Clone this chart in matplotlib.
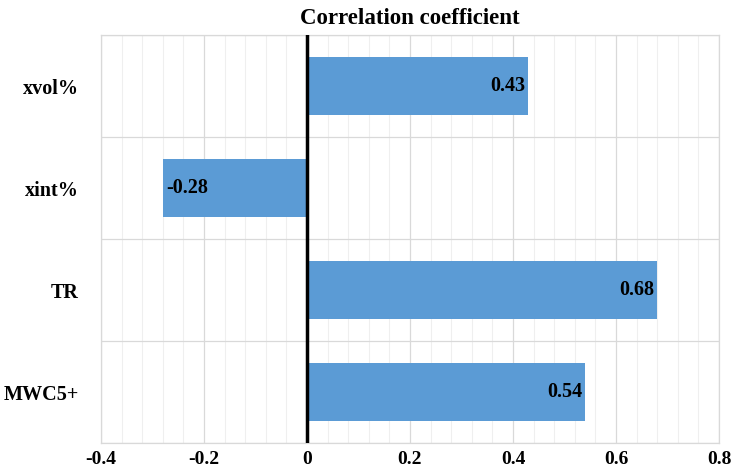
import numpy as np
import matplotlib.pyplot as plt
from matplotlib.ticker import MultipleLocator, FixedLocator

# 데이터
categories = ['xvol%', 'xint%', 'TR', 'MWC5+']
values = [0.43, -0.28, 0.68, 0.54]
labels = ['0.43', '-0.28', '0.68', '0.54']
xticks = [-0.4, -0.2, 0, 0.2, 0.4, 0.6, 0.8]
xticklabels = ['-0.4', '-0.2', '0', '0.2', '0.4', '0.6', '0.8']

plt.rcParams['font.family'] = ['Liberation Serif', 'DejaVu Serif']
plt.rcParams['font.weight'] = 'bold'

fig = plt.figure(figsize=(7.34, 4.75), dpi=100)
ax = fig.add_axes([101 / 734, 1 - 443 / 475, 618 / 734, 408 / 475])

y = np.arange(len(categories))
ax.barh(y, values, height=0.57, color='#5b9bd5', zorder=3)

# 막대 끝 안쪽에 값 표시
for yi, v, t in zip(y, values, labels):
    if v >= 0:
        ax.text(v - 0.006, yi, t, ha='right', va='center', fontsize=14.5,
                fontweight='bold', zorder=4)
    else:
        ax.text(v + 0.006, yi, t, ha='left', va='center', fontsize=14.5,
                fontweight='bold', zorder=4)

ax.axvline(0, color='black', linewidth=2.5, zorder=5)

ax.set_xlim(-0.4, 0.8)
ax.set_ylim(len(categories) - 0.5, -0.5)
ax.set_xticks(xticks)
ax.set_xticklabels(xticklabels)
ax.xaxis.set_minor_locator(MultipleLocator(0.04))
ax.set_yticks(y)
ax.set_yticklabels(categories)
ax.yaxis.set_minor_locator(FixedLocator(np.arange(-0.5, len(categories), 1.0)))

ax.grid(which='major', axis='x', color='#d9d9d9', linewidth=0.9, zorder=0)
ax.grid(which='minor', axis='x', color='#efefef', linewidth=0.8, zorder=0)
ax.grid(which='minor', axis='y', color='#d9d9d9', linewidth=0.9, zorder=0)

ax.tick_params(axis='both', which='both', length=0)
ax.tick_params(axis='x', labelsize=14, pad=6)
ax.tick_params(axis='y', labelsize=14.5, pad=16)
for lab in ax.get_xticklabels() + ax.get_yticklabels():
    lab.set_fontweight('bold')

for s in ax.spines.values():
    s.set_color('#d9d9d9')
    s.set_linewidth(0.9)

ax.set_title('Correlation coefficient', fontsize=16.5, fontweight='bold', pad=8)

fig.savefig('out.png', dpi=100)
